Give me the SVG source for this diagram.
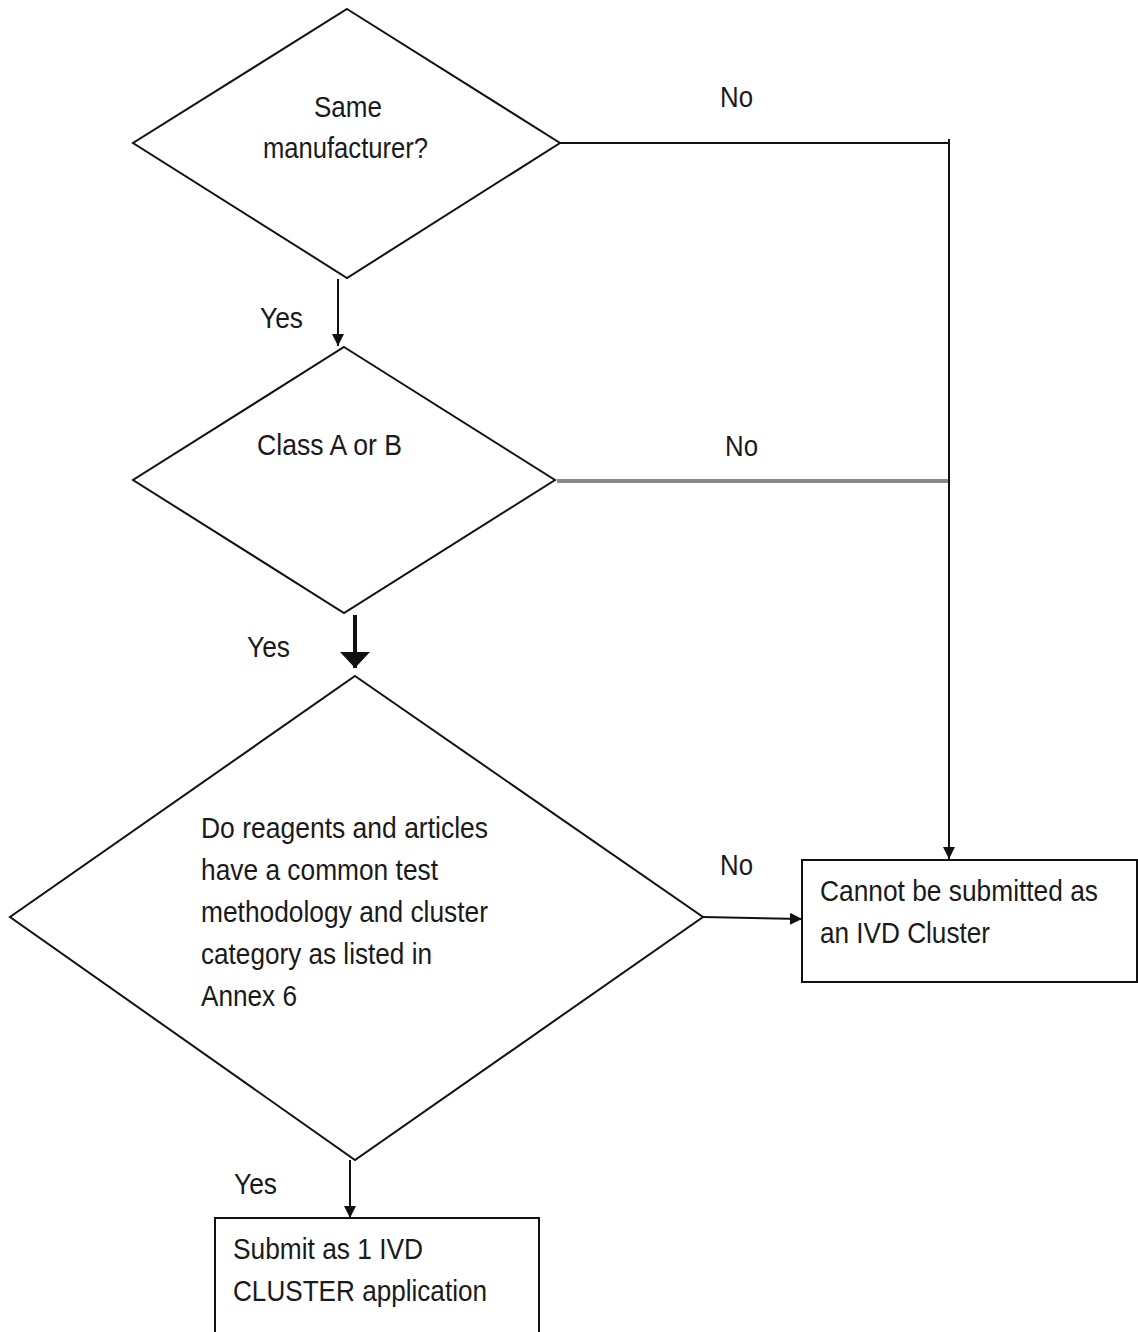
<svg xmlns="http://www.w3.org/2000/svg" width="1138" height="1332" viewBox="0 0 1138 1332">
<defs>
<style>
.shape{fill:#fff;stroke:#111;stroke-width:2}
.t{font-family:"Liberation Sans",Arial,sans-serif;font-size:29px;fill:#1a1a1a}
.c{text-anchor:middle}
.ln{fill:none;stroke:#111;stroke-width:2}
</style>
<marker id="ah" markerWidth="12" markerHeight="12" refX="12" refY="6" orient="auto" markerUnits="userSpaceOnUse">
<path d="M0,0 L12,6 L0,12 Z" fill="#111"/>
</marker>
<marker id="ahb" markerWidth="16" markerHeight="30" refX="16" refY="15" orient="auto" markerUnits="userSpaceOnUse">
<path d="M0,0 L16,15 L0,30 Z" fill="#111"/>
</marker>
</defs>
<rect width="1138" height="1332" fill="#fff"/>
<g id="connectors">
<line class="ln" x1="338" y1="279" x2="338" y2="346" marker-end="url(#ah)"/>
<line x1="355" y1="615" x2="355" y2="668" stroke="#111" stroke-width="4" marker-end="url(#ahb)"/>
<line class="ln" x1="350" y1="1160" x2="350" y2="1218" marker-end="url(#ah)"/>
<polyline class="ln" points="560,143 949,143"/>
<line x1="557" y1="481" x2="949" y2="481" stroke="#8a8a8a" stroke-width="4"/>
<line class="ln" x1="949" y1="139" x2="949" y2="859" marker-end="url(#ah)"/>
<line class="ln" x1="703" y1="917" x2="802" y2="919" marker-end="url(#ah)"/>
<text class="t" x="720" y="107" textLength="33" lengthAdjust="spacingAndGlyphs">No</text>
<text class="t" x="725" y="456" textLength="33" lengthAdjust="spacingAndGlyphs">No</text>
<text class="t" x="720" y="875" textLength="33" lengthAdjust="spacingAndGlyphs">No</text>
<text class="t" x="260" y="328" textLength="43" lengthAdjust="spacingAndGlyphs">Yes</text>
<text class="t" x="247" y="657" textLength="43" lengthAdjust="spacingAndGlyphs">Yes</text>
<text class="t" x="234" y="1194" textLength="43" lengthAdjust="spacingAndGlyphs">Yes</text>
</g>
<g id="d1">
<polygon class="shape" points="347,9 560,143 347,278 133,143"/>
<text class="t" x="314" y="117" textLength="68" lengthAdjust="spacingAndGlyphs">Same</text>
<text class="t" x="263" y="158" textLength="165" lengthAdjust="spacingAndGlyphs">manufacturer?</text>
</g>
<g id="d2">
<polygon class="shape" points="344,347 555,480 344,613 133,480"/>
<text class="t" x="257" y="455" textLength="145" lengthAdjust="spacingAndGlyphs">Class A or B</text>
</g>
<g id="d3">
<polygon class="shape" points="355,676 703,917 355,1160 10,917"/>
<text class="t" x="201" y="838" textLength="287" lengthAdjust="spacingAndGlyphs">Do reagents and articles</text>
<text class="t" x="201" y="880" textLength="237" lengthAdjust="spacingAndGlyphs">have a common test</text>
<text class="t" x="201" y="922" textLength="287" lengthAdjust="spacingAndGlyphs">methodology  and  cluster</text>
<text class="t" x="201" y="964" textLength="231" lengthAdjust="spacingAndGlyphs">category as listed in</text>
<text class="t" x="201" y="1006" textLength="96" lengthAdjust="spacingAndGlyphs">Annex 6</text>
</g>
<g id="b1">
<rect class="shape" x="802" y="860" width="335" height="122"/>
<text class="t" x="820" y="901" textLength="278" lengthAdjust="spacingAndGlyphs">Cannot be submitted  as</text>
<text class="t" x="820" y="943" textLength="170" lengthAdjust="spacingAndGlyphs">an IVD Cluster</text>
</g>
<g id="b2">
<rect class="shape" x="215" y="1218" width="324" height="130"/>
<text class="t" x="233" y="1259" textLength="190" lengthAdjust="spacingAndGlyphs">Submit  as 1 IVD</text>
<text class="t" x="233" y="1301" textLength="254" lengthAdjust="spacingAndGlyphs">CLUSTER application</text>
</g>
</svg>
